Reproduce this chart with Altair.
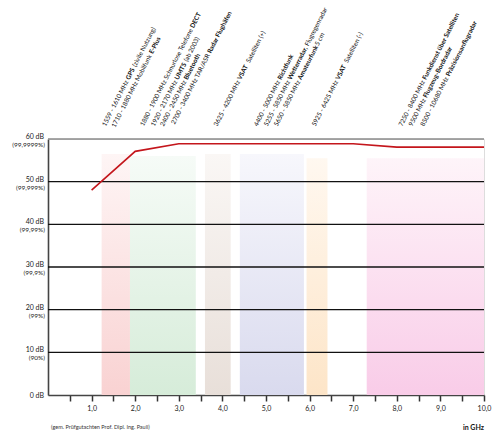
import altair as alt
import pandas as pd

# ---------------- data ----------------
freq_ghz = [1.0, 2.0, 3.0, 7.0, 8.0, 10.0]
atten_db = [48.0, 57.1, 58.9, 58.9, 58.1, 58.1]

band_start = [1.23, 1.88, 3.60, 4.40, 5.93, 7.31]
band_end = [1.88, 3.39, 4.19, 5.87, 6.41, 10.0]
band_top = [56.5, 56.0, 56.5, 56.5, 55.5, 55.5]
band_bottom_col = ["#f9d2d2", "#d6ecd9", "#e8dfd9", "#d9daee", "#fde5c8", "#f9cce8"]
band_top_col = ["#fef5f5", "#f6fbf7", "#faf7f5", "#f7f7fc", "#fff8f0", "#fef4f9"]

label_x = [1.31, 1.54, 2.18, 2.43, 2.64, 2.87, 3.87, 4.79, 5.02, 5.25, 6.12, 8.11, 8.34, 8.61]
label_pre = [
    "1559 - 1610 MHz", "1710 - 1880 MHz Mobilfunk", "1880 - 1900 MHz Schnurlose Telefone",
    "1920 - 2170 MHz", "2400 - 2450 MHz", "2700 - 3400 MHz TAR/ASR",
    "3625 - 4200 MHz", "4400 - 5000 MHz", "5255 - 5850 MHz", "5650 - 5850 MHz",
    "5925 - 6425 MHz", "7250 - 8400 MHz", "9500 MHz", "8500 - 10680 MHz",
]
label_bold = [
    "GPS", "E-Plus", "DECT", "UMTS", "Bluetooth", "Radar Flughäfen", "VSAT", "Richtfunk",
    "Wetterradar,", "Amateurfunk", "VSAT", "Funkdienst über Satelliten",
    "Flugzeug-Bordradar", "Präzisionsanflugradar",
]
label_post = [
    "(zivile Nutzung)", "", "", "(ab 2003)", "", "", "Satelliten (+)", "",
    "Flugregenradar", "5 cm", "Satelliten (-)", "", "", "",
]

y_ticks = [0, 10, 20, 30, 40, 50, 60]
db_labels = ["0 dB", "10 dB", "20 dB", "30 dB", "40 dB", "50 dB", "60 dB"]
pct_labels = ["", "(90%)", "(99%)", "(99,9%)", "(99,99%)", "(99,999%)", "(99,9999%)"]
grid_db = [10, 20, 30, 40, 50]
x_ticks = [0.5, 1.0, 1.5, 2.0, 2.5, 3.0, 3.5, 4.0, 4.5, 5.0, 5.5, 6.0, 6.5, 7.0,
           7.5, 8.0, 8.5, 9.0, 9.5, 10.0]

FONT = "Lato"
LBL_SIZE = 6.4
GAP = 1.7  # word space between parts

# ------------- helpers -------------
W = {" ": 0.22, "-": 0.35, "(": 0.3, ")": 0.3, ",": 0.21, ".": 0.21, "/": 0.37, "+": 0.58,
     "i": 0.24, "l": 0.24, "j": 0.24, "f": 0.32, "t": 0.35, "r": 0.36, "s": 0.42, "z": 0.44,
     "c": 0.45, "m": 0.83, "w": 0.77, "M": 0.88, "W": 1.0, "I": 0.3, "H": 0.76}


def text_w(s, bold=False):
    w = 0.0
    for ch in s:
        if ch in W:
            w += W[ch]
        elif ch.isdigit():
            w += 0.58
        elif ch.isupper():
            w += 0.66
        else:
            w += 0.51
    return w * LBL_SIZE * (1.0 if bold else 1.0) * 1.02


X_SCALE = alt.Scale(domain=[0, 10], nice=False, zero=False)
Y_SCALE = alt.Scale(domain=[0, 60], nice=False, zero=False)
X_AXIS = alt.Axis(
    values=x_ticks, title=None, grid=False,
    labelExpr="datum.value % 1 == 0 ? replace(format(datum.value, '.1f'), '.', ',') : ''",
    domainColor="#444444", domainWidth=1.6, tickColor="#333333", tickWidth=1.5,
    tickSize=6, labelFont=FONT, labelFontSize=7, labelColor="#222222",
    labelPadding=3, labelFlush=False)
Y_AXIS = alt.Axis(title=None, labels=False, ticks=False, grid=False,
                  domainColor="#444444", domainWidth=1.6)


def X(field):
    return alt.X(field, scale=X_SCALE, axis=X_AXIS)


def Y(field):
    return alt.Y(field, scale=Y_SCALE, axis=Y_AXIS)


layers = []

# bands with vertical gradient
bands = pd.DataFrame({"s": band_start, "e": band_end, "t": band_top, "b": [0] * len(band_start)})
for i in range(len(band_start)):
    grad = alt.LinearGradient(
        gradient="linear",
        stops=[alt.GradientStop(offset=0, color=band_top_col[i]),
               alt.GradientStop(offset=1, color=band_bottom_col[i])],
        x1=0, x2=0, y1=0, y2=1,
    )
    layers.append(
        alt.Chart(bands.iloc[[i]]).mark_rect(color=grad).encode(
            x=X("s:Q"), x2="e:Q", y=Y("b:Q"), y2="t:Q",
        )
    )

# grid lines
grid_df = pd.DataFrame({"v": grid_db})
layers.append(
    alt.Chart(grid_df).mark_rule(color="#111111", strokeWidth=1.3).encode(
        y=Y("v:Q"), x=alt.value(0), x2=alt.value(436)
    )
)
top_df = pd.DataFrame({"v": [60]})
layers.append(
    alt.Chart(top_df).mark_rule(color="#8a8a8a", strokeWidth=1.5).encode(
        y=Y("v:Q"), x=alt.value(0), x2=alt.value(436)
    )
)

# red line
line_df = pd.DataFrame({"f": freq_ghz, "a": atten_db})
layers.append(
    alt.Chart(line_df).mark_line(color="#c4161c", strokeWidth=1.6).encode(
        x=X("f:Q"), y=Y("a:Q"),
    )
)

# y labels
ylab = pd.DataFrame({"v": y_ticks, "db": db_labels, "pct": pct_labels})
layers.append(
    alt.Chart(ylab).transform_filter("datum.v > 0").mark_text(
        align="right", baseline="middle", font=FONT, fontSize=7, color="#222222", dy=-2
    ).encode(y=Y("v:Q"), x=alt.value(-4), text="db:N")
)
layers.append(
    alt.Chart(ylab).transform_filter("datum.v > 0").mark_text(
        align="right", baseline="middle", font=FONT, fontSize=6.5, color="#222222", dy=6
    ).encode(y=Y("v:Q"), x=alt.value(-3), text="pct:N")
)
layers.append(
    alt.Chart(ylab).transform_filter("datum.v == 0").mark_text(
        align="right", baseline="middle", font=FONT, fontSize=7, color="#222222", dy=1
    ).encode(y=Y("v:Q"), x=alt.value(-4), text="db:N")
)

# rotated frequency annotations: prefix ends exactly where the bold part starts
for i in range(len(label_x)):
    row = pd.DataFrame({"x": [label_x[i]], "pre": [label_pre[i]],
                        "bold": [label_bold[i]], "post": [label_post[i]]})
    anchor = text_w(label_pre[i] + " ")
    w_bold = text_w(label_bold[i], bold=True)
    parts = [("pre", "normal", "right", anchor),
             ("bold", "bold", "left", anchor + GAP),
             ("post", "normal", "left", anchor + GAP + w_bold + GAP)]
    for field, weight, al, off in parts:
        txt = {"pre": label_pre, "bold": label_bold, "post": label_post}[field][i]
        if not txt:
            continue
        layers.append(
            alt.Chart(row).mark_text(
                angle=297, align=al, baseline="alphabetic", font=FONT,
                fontSize=LBL_SIZE, fontWeight=weight, color="#111111", dx=off
            ).encode(x=X("x:Q"), y=alt.value(-11), text=f"{field}:N")
        )

# footnote and unit
layers.append(
    alt.Chart(pd.DataFrame({"t": ["(gem. Prüfgutachten Prof. Dipl. Ing. Pauli)"]})).mark_text(
        align="left", baseline="middle", font=FONT, fontSize=5.5, color="#333333"
    ).encode(x=alt.value(3), y=alt.value(288), text="t:N")
)
layers.append(
    alt.Chart(pd.DataFrame({"t": ["in GHz"]})).mark_text(
        align="right", baseline="middle", font=FONT, fontSize=7, fontWeight="bold",
        color="#111111"
    ).encode(x=alt.value(436), y=alt.value(289), text="t:N")
)

chart = alt.layer(*layers).properties(
    width=436, height=256,
    autosize=alt.AutoSizeParams(type="none"),
    padding={"left": 48, "top": 139, "right": 16, "bottom": 45},
).configure_view(stroke=None).configure(background="white")

chart.save("out.html", embed_options={"renderer": "svg", "actions": False})
